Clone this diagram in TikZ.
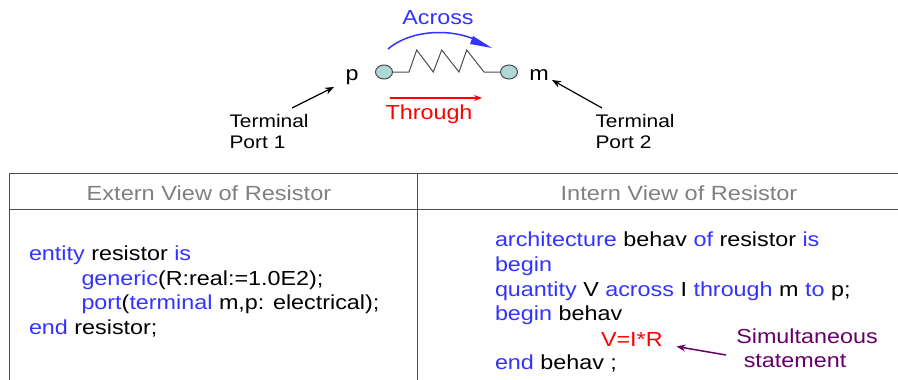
\documentclass[tikz,border=0pt]{standalone}
\usepackage{fontspec}
\setmainfont[FakeStretch=1.15]{Liberation Sans}
\usetikzlibrary{arrows.meta, shapes.geometric}
\definecolor{cblue}{HTML}{3333FF}
\definecolor{cred}{HTML}{FF0000}
\definecolor{cpurple}{HTML}{660066}
\definecolor{cgrey}{HTML}{808080}
\definecolor{cline}{HTML}{4D4D4D}
\definecolor{cport}{HTML}{AFD8D8}
\newcommand{\kw}[1]{\textcolor{cblue}{#1}}
\tikzset{
  every picture/.style={line width=1pt},
  code/.style={anchor=base west, inner sep=0pt, font=\fontsize{20.3}{24}\selectfont},
  label/.style={anchor=base, inner sep=0pt, font=\fontsize{20.3}{24}\selectfont},
  head/.style={anchor=base, inner sep=0pt, text=cgrey, font=\fontsize{20.5}{24}\selectfont},
  small/.style={anchor=base west, inner sep=0pt, align=left, font=\fontsize{18.2}{22}\selectfont},
  port/.style={ellipse, draw=cline, fill=cport, minimum width=17pt, minimum height=14pt, inner sep=0pt},
  arrow/.style={-{Stealth[length=9pt, width=7pt]}, black, line width=1.2pt},
}
\begin{document}
\begin{tikzpicture}[x=1pt, y=-1pt]
  \useasboundingbox (0,0) rectangle (898,380);
  % resistor
  \node[port] (portp) at (384,72) {};
  \node[port] (portm) at (509,72) {};
  \draw[cline] (portp) -- (409,72) -- (416.7,50) -- (433.3,72) -- (441.7,50) -- (459,72) -- (466.7,50) -- (484,72) -- (portm);
  \node[label] (namep) at (352,80) {p};
  \node[label] (namem) at (539,80) {m};
  \node[label, text=cblue] (across) at (438,24) {Across};
  \node[label, text=cred] (through) at (429,119) {Through};
  \coordinate (acrossa) at (388,49);
  \coordinate (acrossb) at (492,48);
  \draw[cblue, line width=1.5pt] (acrossa) .. controls (410,30) and (450,28) .. (476,40);
  \fill[cblue] (473,36) -- (acrossb) -- (470,44) -- cycle;
  \coordinate (througha) at (390,98);
  \coordinate (throughb) at (482,98);
  \draw[cred, -{Stealth[length=8pt, width=6pt]}, line width=1.2pt] (througha) -- (throughb);
  % terminals
  \node[small] (term1) at (229,127) {Terminal};
  \node[small] (name1) at (229,148) {Port\hspace{6pt}1};
  \node[small] (term2) at (595,127) {Terminal};
  \node[small] (name2) at (595,148) {Port\hspace{6pt}2};
  \coordinate (from1) at (292,108);
  \coordinate (to1) at (334,87);
  \coordinate (from2) at (602,108);
  \coordinate (to2) at (552,80);
  \draw[arrow] (from1) -- (to1);
  \draw[arrow] (from2) -- (to2);
  % table
  \draw[cline] (9.5,380) -- (9.5,173.5) -- (898,173.5);
  \draw[cline] (9.5,209) -- (898,209);
  \draw[cline] (417.5,173.5) -- (417.5,380);
  \node[head] (extern) at (209,200) {Extern View of Resistor};
  \node[head] (intern) at (679,200) {Intern View of Resistor};
  % extern code
  \foreach \n/\x/\y/\t in {l1/28.5/260.5/{\kw{entity} resistor \kw{is}},
    l2/81/285/{\kw{generic}(R:real:=1.0E2);},
    l3/81/309.5/{\kw{port}(\kw{terminal} m,p: electrical);},
    l4/28.5/334.5/{\kw{end} resistor;}}
    \node[code] (\n) at (\x,\y) {\t};
  % intern code
  \foreach \n/\y/\t in {r1/246.5/{\kw{architecture} behav \kw{of} resistor \kw{is}},
    r2/271/{\kw{begin}},
    r3/296/{\kw{quantity} V \kw{across} I \kw{through} m \kw{to} p;},
    r4/320.5/{\kw{begin} behav},
    r6/369.5/{\kw{end} behav ;}}
    \node[code] (\n) at (494.5,\y) {\t};
  \node[code, text=cred] (eqn) at (600.5,346) {V=I*R};
  \node[label, text=cpurple] (simul) at (807,343) {Simultaneous};
  \node[label, text=cpurple] (stat) at (795,367) {statement};
  \coordinate (froms) at (726,355);
  \coordinate (tos) at (676.5,346.5);
  \draw[cpurple, -{Stealth[length=9pt, width=7pt]}, line width=1.5pt] (froms) -- (tos);
\end{tikzpicture}
\end{document}
